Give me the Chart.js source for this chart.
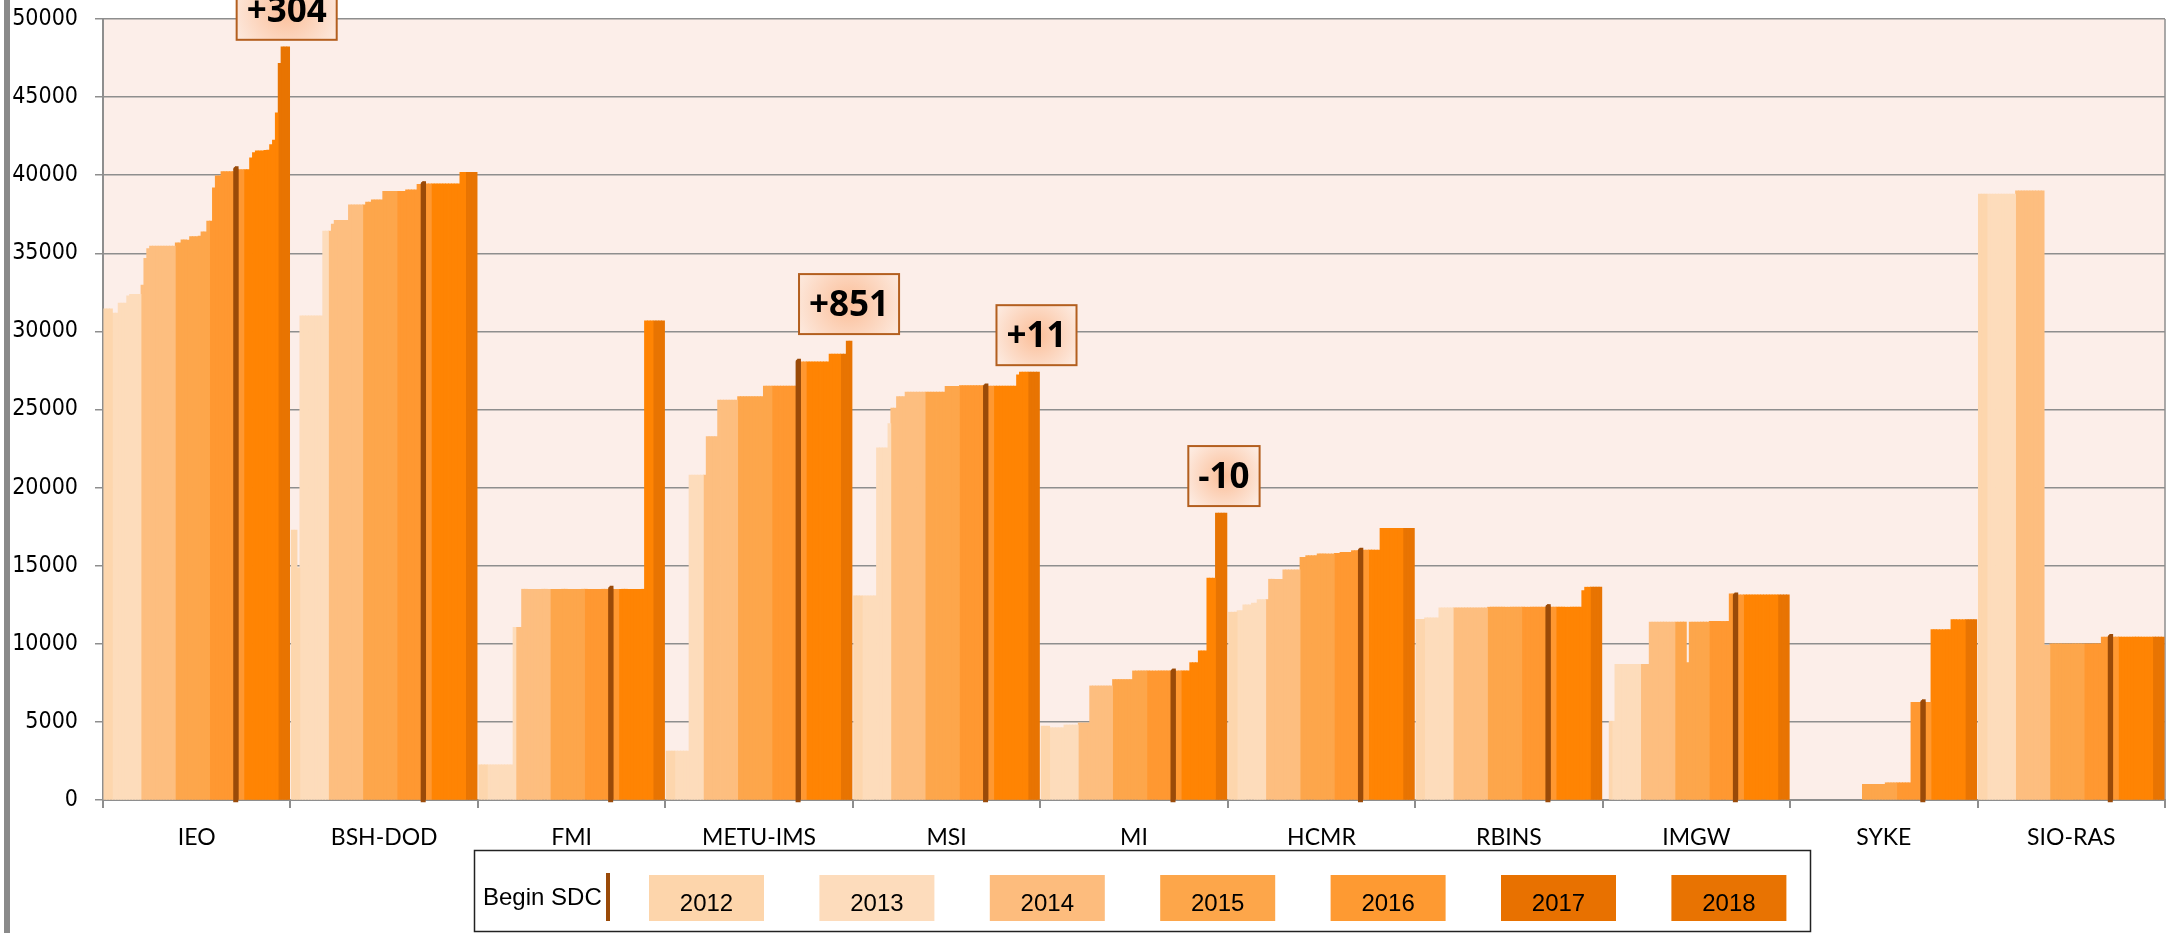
<!DOCTYPE html>
<html>
<head>
<meta charset="utf-8">
<script src="https://cdn.jsdelivr.net/npm/chart.js@4.4.1/dist/chart.umd.min.js"></script>
<style>
html,body{margin:0;padding:0;background:#fff;}
#wrap{position:relative;width:2166px;height:933px;overflow:hidden;}
canvas{display:block;}
</style>
</head>
<body>
<div id="wrap"><canvas id="c" width="2166" height="933"></canvas></div>
<script>
// ---------------- DATA ----------------
const institutes = ['IEO','BSH-DOD','FMI','METU-IMS','MSI','MI','HCMR','RBINS','IMGW','SYKE','SIO-RAS'];
const legendYears = ['2012','2013','2014','2015','2016','2017','2018'];
const months2012 = ['Oct','Nov','Dec'];
const months2013 = ['Mar','Apr','May','Jun','Jul','Aug','Sep','Oct','Nov','Dec'];
const monthsFull = ['Jan','Feb','Mar','Apr','May','Jun','Jul','Aug','Sep','Oct','Nov','Dec'];
const months2018 = ['Jan','Feb','Mar','Apr'];
const sdcBegin = '2016-Oct';
const yTicks = [0,5000,10000,15000,20000,25000,30000,35000,40000,45000,50000];
const annotationTexts = ['+304', '+851', '+11', '-10'];
const annotationInstitutes = ['IEO', 'METU-IMS', 'MSI', 'MI'];

const IEO = [31440,31440,31440,
 31170,31170,31810,31810,31810,32280,32370,32370,32370,32370,
 32960,34670,35290,35460,35460,35460,35460,35460,35460,35460,35460,35460,
 35670,35670,35860,35860,35840,36060,36060,36060,36100,36370,36370,37060,
 37060,39190,39960,39960,40220,40220,40220,40220,40220,40540,40360,40360,
 40360,40360,41110,41450,41560,41560,41560,41580,41600,41960,42240,43990,
 47150,48220,48220,48220];
const BSH_DOD = [17270,17270,14860,
 31000,31000,31000,31000,31000,31000,31000,31000,36420,36420,
 36420,36860,37100,37100,37100,37100,37100,38100,38100,38100,38100,38100,
 38100,38270,38270,38420,38420,38420,38420,38970,38970,38970,38970,38970,
 38970,38970,38970,39060,39060,39060,39060,39410,39410,39590,39440,39440,
 39440,39440,39440,39440,39440,39440,39440,39440,39440,39440,40180,40180,
 40180,40180,40180,40180];
const FMI = [2250,2250,2250,
 2250,2250,2250,2250,2250,2250,2250,2250,2250,11050,
 11050,11050,13490,13490,13490,13490,13490,13490,13490,13490,13490,13490,
 13490,13490,13490,13490,13490,13490,13490,13490,13490,13490,13490,13490,
 13490,13490,13490,13490,13490,13490,13490,13490,13490,13690,13490,13490,
 13490,13490,13490,13490,13490,13490,13490,13490,13490,30670,30670,30670,
 30670,30670,30670,30670];
const METU_IMS = [3130,3130,3130,
 3130,3130,3130,3130,3130,20800,20800,20800,20800,20800,
 20800,23260,23260,23260,23260,25600,25600,25600,25600,25600,25600,25600,
 25830,25830,25830,25830,25830,25830,25830,25830,25830,26500,26500,26500,
 26500,26500,26500,26500,26500,26500,26500,26500,26500,28220,28040,28040,
 28040,28040,28040,28040,28040,28040,28040,28040,28550,28550,28550,28550,
 28550,28550,29380,29380];
const MSI = [13070,13070,13070,
 13070,13070,13070,13070,13070,22540,22540,22540,22540,24090,
 25090,25090,25830,25830,25830,26110,26110,26110,26110,26110,26110,26110,
 26110,26110,26110,26110,26110,26110,26110,26480,26480,26480,26480,26480,
 26530,26530,26530,26530,26530,26530,26530,26530,26530,26640,26500,26500,
 26500,26500,26500,26500,26500,26500,26500,26500,27220,27390,27390,27390,
 27390,27390,27390,27390];
const MI = [4725,4725,4725,
 4625,4625,4625,4625,4625,4800,4800,4800,4800,4800,
 4930,4930,4930,4930,7300,7300,7300,7300,7300,7300,7300,7300,
 7710,7710,7710,7710,7710,7710,7710,8260,8260,8260,8260,8260,
 8260,8260,8260,8260,8260,8260,8260,8260,8260,8390,8260,8260,
 8260,8260,8260,8790,8790,8790,9550,9550,9550,14200,14200,14200,
 18370,18370,18370,18370];
const HCMR = [12020,12020,12020,
 12130,12130,12490,12490,12490,12600,12600,12830,12830,12830,
 12830,14130,14130,14130,14130,14130,14730,14730,14730,14730,14730,14730,
 15530,15530,15640,15640,15640,15640,15750,15750,15750,15750,15750,15750,
 15790,15790,15850,15850,15850,15850,15960,15960,15960,16130,16000,16000,
 16000,16000,16000,16000,17390,17390,17390,17390,17390,17390,17390,17390,
 17390,17390,17390,17390];
const RBINS = [11560,11560,11560,
 11660,11660,11660,11660,11660,12300,12300,12300,12300,12300,
 12300,12300,12300,12300,12300,12300,12300,12300,12300,12300,12300,12300,
 12340,12340,12340,12340,12340,12340,12340,12340,12340,12340,12340,12340,
 12340,12340,12340,12340,12340,12340,12340,12340,12340,12510,12340,12340,
 12340,12340,12340,12340,12340,12340,12340,12340,12340,13400,13620,13620,
 13620,13620,13620,13620];
const IMGW = [null,null,5040,
 5040,8680,8680,8680,8680,8680,8680,8680,8680,8680,
 8680,8680,8680,11390,11390,11390,11390,11390,11390,11390,11390,11390,
 11390,11390,11390,11390,8790,11390,11390,11390,11390,11390,11390,11390,
 11430,11430,11430,11430,11430,11430,11430,13190,13190,13260,13130,13130,
 13130,13130,13130,13130,13130,13130,13130,13130,13130,13130,13130,13130,
 13130,13130,13130,13130];
const SYKE = [null,null,null,
 null,null,null,null,null,null,null,null,null,null,
 null,null,null,null,null,null,null,null,null,null,null,null,
 1000,1000,1000,1000,1000,1000,1000,1000,1100,1100,1100,1100,
 1100,1100,1100,1100,1100,6250,6250,6250,6250,6420,6250,6250,
 10900,10900,10900,10900,10900,10900,10900,11540,11540,11540,11540,11540,
 11540,11540,11540,11540];
const SIO_RAS = [38790,38790,38790,
 38790,38790,38790,38790,38790,38790,38790,38790,38790,38790,
 38990,38990,38990,38990,38990,38990,38990,38990,38990,38990,9900,9900,
 10000,10000,10000,10000,10000,10000,10000,10000,10000,10000,10000,10000,
 10000,10000,10000,10000,10000,10000,10430,10430,10430,10600,10430,10430,
 10430,10430,10430,10430,10430,10430,10430,10430,10430,10430,10430,10430,
 10430,10430,10430,10430];

// ---------------- STYLE ----------------
const barColors = {'2012':'#FDD6AD','2013':'#FDDCBB','2014':'#FDBE7F','2015':'#FDA64B','2016':'#FF9831','2017':'#FF8403','2018':'#E87402'};
const legendColors = {'2012':'#FDD5AB','2013':'#FDDCBC','2014':'#FDBC7D','2015':'#FDA64A','2016':'#FE9A32','2017':'#E87100','2018':'#E87302'};
const sdcColor = '#9A4A08';
const plotBg = '#FCEEE9';
const gridGrey = '#8E8E8E';

// ---------------- BUILD ----------------
const yearMonths = {'2012':months2012,'2013':months2013,'2014':monthsFull,'2015':monthsFull,'2016':monthsFull,'2017':monthsFull,'2018':months2018};
const periods = [], periodYear = [];
legendYears.forEach(y => yearMonths[y].forEach(m => { periods.push(y + '-' + m); periodYear.push(y); }));
const series = [IEO, BSH_DOD, FMI, METU_IMS, MSI, MI, HCMR, RBINS, IMGW, SYKE, SIO_RAS];
const sdcIndex = periods.indexOf(sdcBegin);

const datasets = periods.map((p, k) => ({
  label: p,
  data: series.map(s => s[k]),
  backgroundColor: k === sdcIndex ? sdcColor : barColors[periodYear[k]],
  borderWidth: 0,
  inflateAmount: 0.4
}));

const bgPlugin = {
  id: 'bg',
  beforeDraw(chart) {
    const {ctx, chartArea: a} = chart;
    ctx.save();
    ctx.fillStyle = '#ffffff';
    ctx.fillRect(0, 0, chart.width, chart.height);
    ctx.fillStyle = plotBg;
    ctx.fillRect(a.left, a.top, a.right - a.left, a.bottom - a.top);
    ctx.fillStyle = '#8A8A8A';
    ctx.fillRect(4, 0, 6, chart.height);
    ctx.strokeStyle = gridGrey;
    ctx.lineWidth = 1.5;
    ctx.beginPath();
    ctx.moveTo(a.right, a.top);
    ctx.lineTo(a.right, a.bottom);
    ctx.stroke();
    ctx.restore();
  }
};

const sdcPlugin = {
  id: 'sdc',
  afterDatasetsDraw(chart) {
    const ctx = chart.ctx;
    const meta = chart.getDatasetMeta(sdcIndex);
    ctx.save();
    meta.data.forEach(el => {
      if (el.y == null || isNaN(el.y)) return;
      const w = 5, x = el.x - 1 - w / 2, top = el.y, bottom = el.base + 3;
      ctx.fillStyle = sdcColor;
      ctx.beginPath();
      ctx.roundRect(x, top, w, bottom - top, [2.5, 2.5, 0, 0]);
      ctx.fill();
    });
    ctx.restore();
  }
};

const annPlugin = {
  id: 'ann',
  afterDatasetsDraw(chart) {
    const ctx = chart.ctx;
    const lastMeta = chart.getDatasetMeta(periods.length - 1);
    ctx.save();
    ctx.font = 'bold 35px "Open Sans"';
    annotationTexts.forEach((t, i) => {
      const inst = annotationInstitutes[i];
      const el = lastMeta.data[institutes.indexOf(inst)];
      const tw = ctx.measureText(t).width;
      const w = tw + 20, h = 60;
      const cx = el.x - 1.5;
      const bottom = el.y - 7;
      const top = bottom - h;
      const cy = top + h / 2;
      const g = ctx.createRadialGradient(cx, cy, 0, cx, cy, w * 0.62);
      g.addColorStop(0, '#FBBE98');
      g.addColorStop(1, '#FDEDE4');
      ctx.fillStyle = g;
      ctx.fillRect(cx - w / 2, top, w, h);
      ctx.strokeStyle = '#B35F1F';
      ctx.lineWidth = 2;
      ctx.strokeRect(cx - w / 2, top, w, h);
      ctx.fillStyle = '#000';
      ctx.textAlign = 'center';
      ctx.textBaseline = 'middle';
      ctx.fillText(t, cx, cy + 2);
    });
    ctx.restore();
  }
};

const legendPlugin = {
  id: 'customLegend',
  afterDraw(chart) {
    const ctx = chart.ctx;
    ctx.save();
    ctx.strokeStyle = '#222';
    ctx.lineWidth = 1.5;
    ctx.strokeRect(474.5, 850.5, 1336, 81);
    ctx.fillStyle = '#000';
    ctx.font = '24px "Liberation Sans"';
    ctx.textAlign = 'left';
    ctx.textBaseline = 'middle';
    ctx.fillText('Begin SDC', 483, 898);
    ctx.fillStyle = sdcColor;
    ctx.fillRect(606, 873, 4, 48);
    legendYears.forEach((y, i) => {
      const x = 649 + i * 170.4;
      ctx.fillStyle = legendColors[y];
      ctx.fillRect(x, 875, 115, 46);
      ctx.fillStyle = '#000';
      ctx.textAlign = 'center';
      ctx.fillText(y, x + 57.5, 904);
    });
    ctx.restore();
  }
};

new Chart(document.getElementById('c'), {
  type: 'bar',
  data: { labels: institutes, datasets },
  options: {
    responsive: false,
    animation: false,
    devicePixelRatio: 1,
    layout: { padding: { top: 19, right: 1, left: 0, bottom: 0 } },
    datasets: { bar: { categoryPercentage: 0.991, barPercentage: 1 } },
    plugins: { legend: { display: false }, tooltip: { enabled: false } },
    scales: {
      x: {
        offset: true,
        grid: { drawOnChartArea: false, color: gridGrey, tickLength: 8, lineWidth: 2, offset: true },
        border: { color: gridGrey, width: 2 },
        ticks: { color: '#000', font: { family: 'Lato', size: 23 }, padding: 16, maxRotation: 0, autoSkip: false },
        afterFit(s) { s.height = 133; s.paddingLeft = 0; s.paddingRight = 0; }
      },
      y: {
        min: 0, max: 50000,
        afterBuildTicks(s) { s.ticks = yTicks.map(v => ({ value: v })); },
        ticks: { color: '#000', font: { family: '"DejaVu Sans Condensed", "DejaVu Sans"', size: 23 }, padding: 17, callback: v => String(v) },
        grid: { color: gridGrey, lineWidth: 1.5, tickLength: 8 },
        border: { color: gridGrey, width: 2 },
        afterFit(s) { s.width = 103; s.paddingTop = 0; s.paddingBottom = 0; }
      }
    }
  },
  plugins: [bgPlugin, sdcPlugin, annPlugin, legendPlugin]
});
</script>
</body>
</html>
